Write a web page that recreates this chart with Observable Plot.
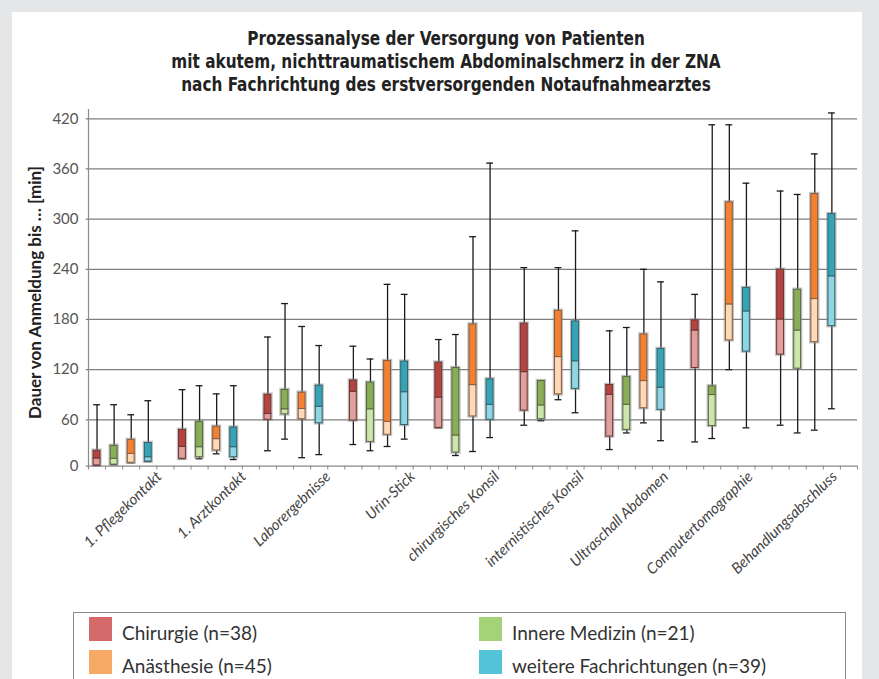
<!DOCTYPE html>
<html><head><meta charset="utf-8">
<script src="https://cdn.jsdelivr.net/npm/d3@7"></script>
<script src="https://cdn.jsdelivr.net/npm/@observablehq/plot@0.6"></script>
<style>
body{margin:0;background:#e5e6e8;}
#page{position:relative;width:879px;height:679px;overflow:hidden;background:#e5e6e8;}
#panel{position:absolute;left:12px;top:12px;width:850px;height:700px;background:#fff;}
#title{position:absolute;left:0;top:27px;width:892px;text-align:center;font-family:"DejaVu Sans Condensed","DejaVu Sans",sans-serif;font-stretch:condensed;font-weight:bold;font-size:20px;line-height:23px;color:#222;transform:scaleX(0.85);transform-origin:446px 0;}
#chart{position:absolute;left:0;top:0;}
#legend{position:absolute;left:73px;top:612px;width:771px;height:90px;border:1px solid #8a8a8a;background:#fff;}
.item{position:absolute;font-family:Lato,sans-serif;font-size:19px;color:#333;white-space:nowrap;line-height:24px;}
.sw{position:absolute;width:23px;height:24px;}
</style></head>
<body><div id="page"><div id="panel"></div>
<div id="title">Prozessanalyse der Versorgung von Patienten<br>mit akutem, nichttraumatischem Abdominalschmerz in der ZNA<br>nach Fachrichtung des erstversorgenden Notaufnahmearztes</div>
<div id="chart"></div><div id="legend"></div></div>
<script>
const categories = ["1. Pflegekontakt","1. Arztkontakt","Laborergebnisse","Urin-Stick","chirurgisches Konsil","internistisches Konsil","Ultraschall Abdomen","Computertomographie","Behandlungsabschluss"];
const seriesNames = ["Chirurgie","Innere Medizin","Anästhesie","weitere Fachrichtungen"];
const seriesN = [38,21,45,39];
const darkColors = ["#b54441","#8aad57","#f28231","#37a4b6"];
const lightColors = ["#e0a19e","#cde4ab","#fdd9b7","#8fd5e2"];
const edgeColors = ["#6e3533","#56693f","#8a5a3c","#2f6470"];
const legendColors = ["#d4696a","#a4d276","#f6aa66","#53c4d7"];
const yTicks = [0,60,120,180,240,300,360,420];
// [min, q1, median, q3, max] per category
const chirurgie = [[1,1,10,20,78],[9.6,9.6,25,47,96],[20,60,67,90,159],[28,59,93.5,107,148],[49.6,49.6,86.6,128.4,156],[53,71,117,175,242],[21.5,38.3,90,101.6,166.4],[31.4,122,166.8,178.8,210],[53,138,180,239.5,333.6]];
const innereMedizin = [[2,2,9.6,26.3,78],[9.6,11.6,24.6,57,100.8],[35,66.5,72.6,95.6,199],[20,31.4,72.6,104.4,132.7],[13.8,17.7,39.7,121.9,162],[58.8,60.7,77.2,106.3,106.3],[43,47,78,111.1,170.4],[35.8,52,89.6,100,412.8],[43,121.2,166.8,215.5,329.5]];
const anaesthesie = [[4.4,4.4,16,34,66],[16,20.3,35,51,91],[11,60.7,73,92.4,171.6],[25.5,40.6,57.4,130.3,222],[19,64,101.5,174,279],[84,90.4,135,190.3,242],[56,73.8,106.3,162,240],[120,155,198,320,412.8],[46.6,152.8,204.4,330,378]];
const weitere = [[6,6,11.6,30,82.8],[8.6,11.6,24.6,50,100.8],[15,55.5,75.6,100.8,148.8],[35,53.3,93,129.6,210],[37,60,78,108.4,367],[68.4,97,130,177.6,286],[33,71.9,98.4,144.7,225],[49.6,141.6,189.6,217.6,343],[73.2,172,231.6,306,427]];

const seriesData = [chirurgie, innereMedizin, anaesthesie, weitere];
const rows = [];
categories.forEach((c, gi) => {
  seriesData.forEach((s, si) => {
    const [min, q1, med, q3, max] = s[gi];
    rows.push({slot: gi*5 + si, si, min, q1, med, q3, max});
  });
});
const hw = 0.2;
const font = "Lato, sans-serif";

const chart = Plot.plot({
  width: 879, height: 600,
  marginLeft: 88, marginRight: 22, marginTop: 118, marginBottom: 134,
  style: {background: "transparent", fontFamily: font, overflow: "visible"},
  x: {type: "linear", domain: [0, 45], axis: null},
  y: {type: "linear", domain: [0, 60, 420], range: [465.7, 419.3, 118.3], axis: null},
  color: {type: "identity"},
  marks: [
    Plot.ruleY(yTicks.filter(d => d > 0), {x1: -0.13, x2: 45, stroke: "#7f7f7f", strokeWidth: 1.2}),
    Plot.ruleY([0], {x1: -0.13, x2: 45, stroke: "#8a8a8a", strokeWidth: 1.2}),
    Plot.ruleX([0], {y1: -5, y2: 431, stroke: "#8a8a8a", strokeWidth: 1.2}),
    Plot.ruleX(d3.range(1, 46), {y1: 0, y2: -5, stroke: "#8a8a8a", strokeWidth: 1}),
    Plot.text(yTicks, {x: 0, y: d => d, text: d => String(d), textAnchor: "end", dx: -10, fontSize: 15, fill: "#555"}),
    Plot.text(["Dauer von Anmeldung bis … [min]"], {frameAnchor: "left", textAnchor: "middle", dx: -53, rotate: -90, fontSize: 17, fontWeight: "bold", fill: "#222"}),
    Plot.ruleX(rows, {x: d => d.slot + 0.5, y1: "min", y2: "max", stroke: "#1a1a1a", strokeWidth: 1.3}),
    Plot.ruleY(rows, {x1: d => d.slot + 0.5 - hw, x2: d => d.slot + 0.5 + hw, y: "max", stroke: "#1a1a1a", strokeWidth: 1.3}),
    Plot.ruleY(rows, {x1: d => d.slot + 0.5 - hw, x2: d => d.slot + 0.5 + hw, y: "min", stroke: "#1a1a1a", strokeWidth: 1.3}),
    Plot.rect(rows, {x1: d => d.slot + 0.5 - hw, x2: d => d.slot + 0.5 + hw, y1: "q1", y2: "q3", fill: "none", stroke: "#8c8c8c", strokeOpacity: 0.55, strokeWidth: 3.5}),
    Plot.rect(rows, {x1: d => d.slot + 0.5 - hw, x2: d => d.slot + 0.5 + hw, y1: "q1", y2: "med", fill: d => lightColors[d.si], stroke: d => edgeColors[d.si], strokeWidth: 1}),
    Plot.rect(rows, {x1: d => d.slot + 0.5 - hw, x2: d => d.slot + 0.5 + hw, y1: "med", y2: "q3", fill: d => darkColors[d.si], stroke: d => edgeColors[d.si], strokeWidth: 1}),
    Plot.text(categories, {x: (d, i) => 4.2 + i*4.94, y: 0, text: d => d, dx: -1, dy: 8, rotate: -44, textAnchor: "end", fontSize: 15, fontStyle: "italic", fill: "#444"})
  ]
});
document.getElementById("chart").appendChild(chart);

const legend = document.getElementById("legend");
const legendPos = [[15, 4], [405, 4], [15, 37], [405, 37]];
seriesNames.forEach((name, si) => {
  const [lx, ly] = legendPos[si];
  const sw = document.createElement("div");
  sw.className = "sw";
  sw.style.left = lx + "px"; sw.style.top = ly + "px"; sw.style.background = legendColors[si];
  legend.appendChild(sw);
  const t = document.createElement("div");
  t.className = "item";
  t.style.left = (lx + 33) + "px"; t.style.top = (ly + 4) + "px";
  t.textContent = `${name} (n=${seriesN[si]})`;
  legend.appendChild(t);
});
</script>
</body></html>
